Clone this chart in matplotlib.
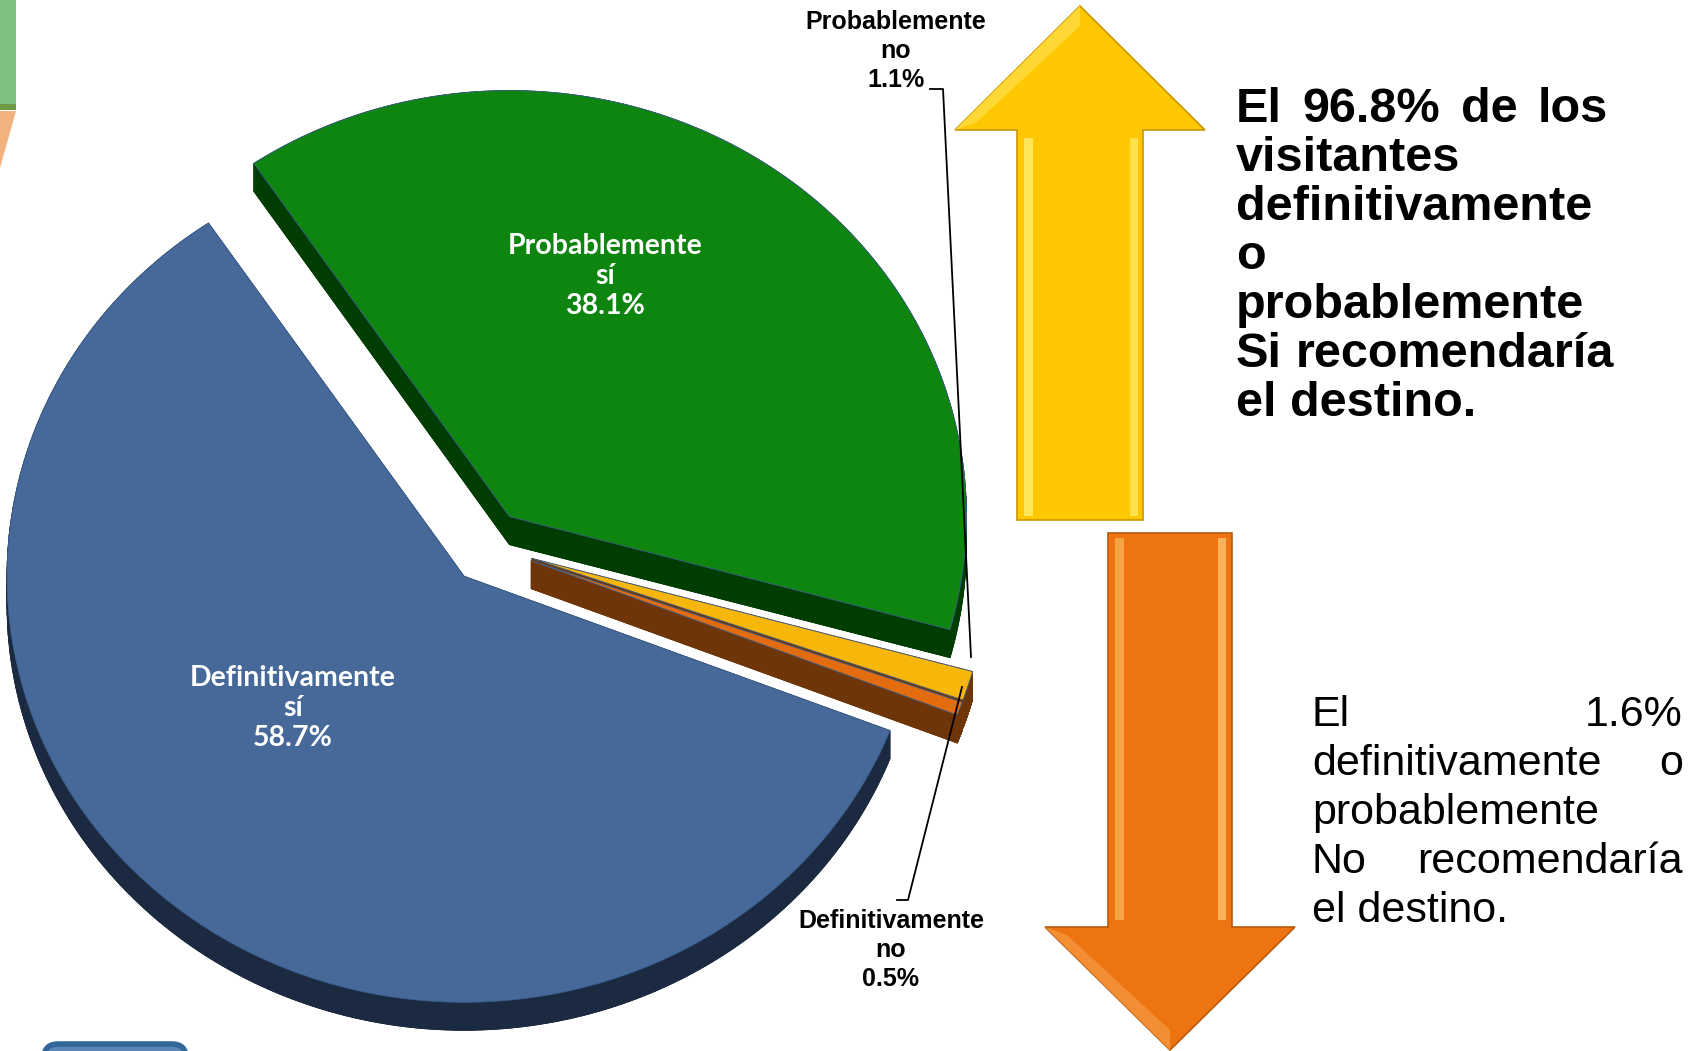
import numpy as np
import matplotlib
matplotlib.use("Agg")
import matplotlib.pyplot as plt
from matplotlib.patches import Polygon, Rectangle, FancyBboxPatch
from matplotlib.collections import PolyCollection

# slices, clockwise from the top-left
labels = ["Probablemente\nsí", "Probablemente\nno", "Definitivamente\nno", "Definitivamente\nsí"]
values = [38.1, 1.1, 0.5, 58.7]

top_colors = ["#0E850F", "#F6B60A", "#E26C0E", "#46699A"]
side_colors = ["#003D00", "#6E3508", "#6E3508", "#1B2A40"]
explode = [35, 45, 45, 40]

si_lines = ["El 96.8% de los", "visitantes", "definitivamente", "o",
            "probablemente", "Si recomendaría", "el destino."]
no_lines = ["El 1.6%", "definitivamente o", "probablemente",
            "No recomendaría", "el destino."]

# pie geometry (pixels)
cx, cy = 489, 545
rx, ry = 457, 426
depth = 28
start = 124

fig = plt.figure(figsize=(17, 10.51), dpi=100)
ax = fig.add_axes([0, 0, 1, 1])
ax.set_xlim(0, 1700)
ax.set_ylim(1051, 0)
ax.axis("off")

vals = np.array(values)
fr = vals / vals.sum() * 360
a_end = start - np.cumsum(fr)
a_beg = a_end + fr


def wedge(a0, a1, ox, oy, n=240):
    t = np.radians(np.linspace(a0, a1, n))
    xs = cx + ox + rx * np.cos(t)
    ys = cy + oy - ry * np.sin(t)
    return np.column_stack([np.r_[cx + ox, xs], np.r_[cy + oy, ys]])


label_pos = {0: (605, 276), 3: (293, 708)}
for i in range(len(values)):
    mid = np.radians((a_beg[i] + a_end[i]) / 2)
    ox, oy = explode[i] * np.cos(mid), -explode[i] * np.sin(mid)
    top = wedge(a_beg[i], a_end[i], ox, oy)
    bot = top + [0, depth]
    quads = []
    m = len(top)
    for j in range(m):
        k = (j + 1) % m
        quads.append([top[j], top[k], bot[k], bot[j]])
    quads.append(bot)
    ax.add_collection(PolyCollection(quads, facecolors=side_colors[i],
                                     edgecolors=side_colors[i], lw=0.6, zorder=1 + i))
    ax.add_patch(Polygon(top, closed=True, facecolor=top_colors[i],
                         edgecolor="#3B5E8C", lw=0.6, zorder=1 + i))
    if i in label_pos:
        pct = f"{values[i]:.1f}%"
        ax.text(*label_pos[i], labels[i] + "\n" + pct, ha="center", va="center",
                color="white", fontsize=20.5, fontweight="bold", linespacing=1.2,
                family=["Lato", "DejaVu Sans"], zorder=10)

# outside labels with leader lines
ax.text(896, 51, labels[1] + f"\n{values[1]:.1f}%", ha="center", va="center",
        fontsize=18, fontweight="bold", linespacing=1.25,
        family=["Liberation Sans", "DejaVu Sans"], zorder=10)
ax.text(891, 950, labels[2] + f"\n{values[2]:.1f}%", ha="center", va="center",
        fontsize=18, fontweight="bold", linespacing=1.25,
        family=["Liberation Sans", "DejaVu Sans"], zorder=10)
ax.plot([930, 943, 971], [89, 89, 657], color="black", lw=1.3, zorder=9)
ax.plot([962, 908, 897], [687, 900, 900], color="black", lw=1.3, zorder=9)

# arrows
up = [(1017, 520), (1017, 130), (955, 130), (1080, 6), (1205, 130), (1143, 130), (1143, 520)]
ax.add_patch(Polygon(up, closed=True, fc="#FFC800", ec="#C99700", lw=1.2, zorder=5))
ax.add_patch(Polygon([(955, 130), (1080, 6), (1080, 26), (977, 122)], fc="#FFD835", lw=0, zorder=5))
ax.add_patch(Rectangle((1024, 138), 9, 378, fc="#FFE55A", lw=0, zorder=5))
ax.add_patch(Rectangle((1130, 138), 8, 378, fc="#FFE14A", lw=0, zorder=5))

down = [(1108, 533), (1108, 927), (1045, 927), (1170, 1050), (1295, 927), (1232, 927), (1232, 533)]
ax.add_patch(Polygon(down, closed=True, fc="#EE7411", ec="#B85A0A", lw=1.2, zorder=5))
ax.add_patch(Polygon([(1045, 927), (1170, 1050), (1170, 1030), (1067, 935)], fc="#F38E35", lw=0, zorder=5))
ax.add_patch(Rectangle((1115, 538), 9, 382, fc="#F6A545", lw=0, zorder=5))
ax.add_patch(Rectangle((1218, 538), 8, 382, fc="#F9B25A", lw=0, zorder=5))

# slide fragments
ax.add_patch(Rectangle((0, 0), 16, 106, fc="#80C080", lw=0))
ax.add_patch(Rectangle((0, 104), 16, 6, fc="#6F9A45", lw=0))
ax.add_patch(Polygon([(0, 111), (16, 111), (0, 168)], fc="#F4B27E", lw=0))
ax.add_patch(FancyBboxPatch((44, 1044), 142, 40, boxstyle="round,pad=0,rounding_size=14",
                            fc="#5A86B8", ec="#336699", lw=4))

# justified text blocks
fig.canvas.draw()
rend = fig.canvas.get_renderer()


def justified(lines, x0, x1, y0, step, **kw):
    t = ax.text(0, 0, "a a", **kw)
    t2 = ax.text(0, 0, "aa", **kw)
    space = t.get_window_extent(rend).width - t2.get_window_extent(rend).width
    t.remove()
    t2.remove()
    for n, line in enumerate(lines):
        y = y0 + n * step
        words = line.split()
        if n == len(lines) - 1 or len(words) == 1:
            ax.text(x0, y, line, ha="left", va="baseline", zorder=10, **kw)
            continue
        ws = []
        for w in words:
            t = ax.text(0, 0, w, **kw)
            ws.append(t.get_window_extent(rend).width)
            t.remove()
        gap = max((x1 - x0 - sum(ws)) / (len(words) - 1), space)
        x = x0
        for w, wd in zip(words, ws):
            ax.text(x, y, w, ha="left", va="baseline", zorder=10, **kw)
            x += wd + gap


justified(si_lines, 1236, 1608, 122, 49, fontsize=35, fontweight="bold",
          family=["Liberation Sans", "DejaVu Sans"])
justified(no_lines, 1312, 1683, 726, 49, fontsize=31,
          family=["Liberation Sans", "DejaVu Sans"])

fig.savefig("out.png", dpi=100)
